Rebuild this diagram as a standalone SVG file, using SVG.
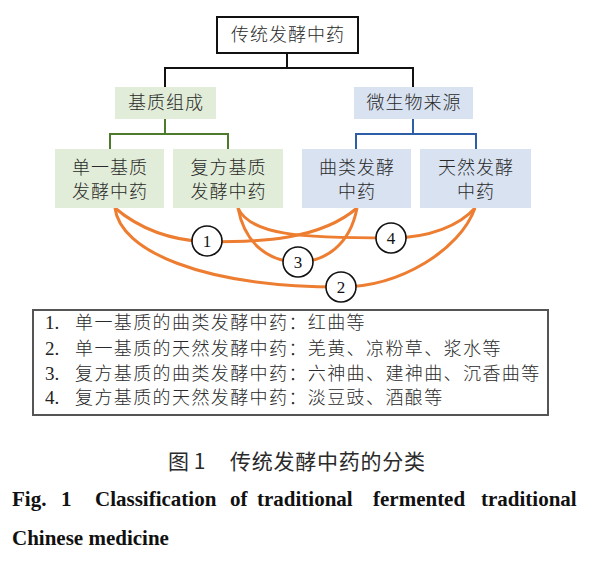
<svg xmlns="http://www.w3.org/2000/svg" width="601" height="565" viewBox="0 0 601 565">
<style>
.cn{font-family:"Noto Sans CJK SC","Noto Sans CJK TC",sans-serif;fill:#2a2a2a;}
.lt{font-weight:300;}
.nt{font-size:18px;letter-spacing:1px;text-anchor:middle;}
.lg{font-size:18px;letter-spacing:1.4px;}
.num{font-family:"Liberation Serif",serif;font-size:19px;fill:#222;}
.green{fill:#E1EDD8;}
.blue{fill:#D8E2F1;}
.arc{fill:none;stroke:#ED7D31;stroke-width:3;}
.circ{fill:#fff;stroke:#111;stroke-width:1.6;}
.ct{font-family:"Liberation Serif",serif;font-size:17px;text-anchor:middle;fill:#111;}
.en{font-family:"Liberation Serif",serif;font-size:21px;font-weight:bold;fill:#111;}
</style>
<rect width="601" height="565" fill="#fff"/>
<g id="connectors">
  <g fill="none" stroke-width="2">
    <path d="M287,53 V68 M165,88 V68 H413 V88" stroke="#111"/>
    <path d="M165,119 V134 M110,149 V134 H228 V149" stroke="#4E7A2E"/>
    <path d="M413,119 V134 M356,149 V134 H476 V149" stroke="#2F5EA8"/>
  </g>
  <path class="arc" d="M115,208 C120,250 200,287 341,287 C400,287 460,250 475,208"/>
  <path class="arc" d="M115,208 C135,225 165,240 207,242 C260,242 320,240 357,208"/>
  <path class="arc" d="M238,208 C245,245 270,262 298,262 C325,262 350,245 357,208"/>
  <path class="arc" d="M238,208 C250,235 300,238 391,238 C430,238 460,225 475,208"/>
</g>
<g id="root">
  <rect x="217" y="17" width="141" height="36" fill="#fff" stroke="#111" stroke-width="2"/>
  <text class="cn lt nt" x="288" y="41">传统发酵中药</text>
</g>
<g id="matrix">
  <rect class="green" x="115" y="87" width="101" height="32"/>
  <text class="cn lt nt" x="166" y="109">基质组成</text>
</g>
<g id="microbe">
  <rect class="blue" x="354" y="87" width="119" height="32"/>
  <text class="cn lt nt" x="414" y="109">微生物来源</text>
</g>
<g id="single">
  <rect class="green" x="55" y="149" width="109" height="59"/>
  <text class="cn lt nt" x="110" y="174">单一基质</text>
  <text class="cn lt nt" x="110" y="198">发酵中药</text>
</g>
<g id="compound">
  <rect class="green" x="173" y="149" width="110" height="59"/>
  <text class="cn lt nt" x="228.5" y="174">复方基质</text>
  <text class="cn lt nt" x="228.5" y="198">发酵中药</text>
</g>
<g id="qu">
  <rect class="blue" x="302" y="149" width="109" height="59"/>
  <text class="cn lt nt" x="357" y="174">曲类发酵</text>
  <text class="cn lt nt" x="357" y="198">中药</text>
</g>
<g id="natural">
  <rect class="blue" x="420" y="149" width="111" height="59"/>
  <text class="cn lt nt" x="476" y="174">天然发酵</text>
  <text class="cn lt nt" x="476" y="198">中药</text>
</g>
<g id="c1"><circle class="circ" cx="207" cy="241" r="15"/><text class="ct" x="207" y="247">1</text></g>
<g id="c2"><circle class="circ" cx="341" cy="287" r="15"/><text class="ct" x="341" y="293">2</text></g>
<g id="c3"><circle class="circ" cx="298" cy="262" r="15"/><text class="ct" x="298" y="268">3</text></g>
<g id="c4"><circle class="circ" cx="391" cy="238" r="15"/><text class="ct" x="391" y="244">4</text></g>
<g id="legend">
  <rect x="33" y="310" width="515" height="105" fill="#fff" stroke="#555" stroke-width="2"/>
  <text class="num" x="45" y="329">1.</text>
  <text class="cn lt lg" x="75" y="329">单一基质的曲类发酵中药：红曲等</text>
  <text class="num" x="45" y="355">2.</text>
  <text class="cn lt lg" x="75" y="355">单一基质的天然发酵中药：羌黄、凉粉草、浆水等</text>
  <text class="num" x="45" y="380">3.</text>
  <text class="cn lt lg" x="75" y="380">复方基质的曲类发酵中药：六神曲、建神曲、沉香曲等</text>
  <text class="num" x="45" y="404">4.</text>
  <text class="cn lt lg" x="75" y="404">复方基质的天然发酵中药：淡豆豉、酒酿等</text>
</g>
<g id="caption">
  <text class="cn" x="168" y="469" font-size="21">图 1</text>
  <text class="cn" x="230" y="469" font-size="21" textLength="195">传统发酵中药的分类</text>
  <text class="en" y="506"><tspan x="12">Fig.</tspan><tspan x="61">1</tspan><tspan x="95">Classification</tspan><tspan x="230">of</tspan><tspan x="257">traditional</tspan><tspan x="373">fermented</tspan><tspan x="481">traditional</tspan></text>
  <text class="en" x="12" y="545">Chinese medicine</text>
</g>
</svg>
